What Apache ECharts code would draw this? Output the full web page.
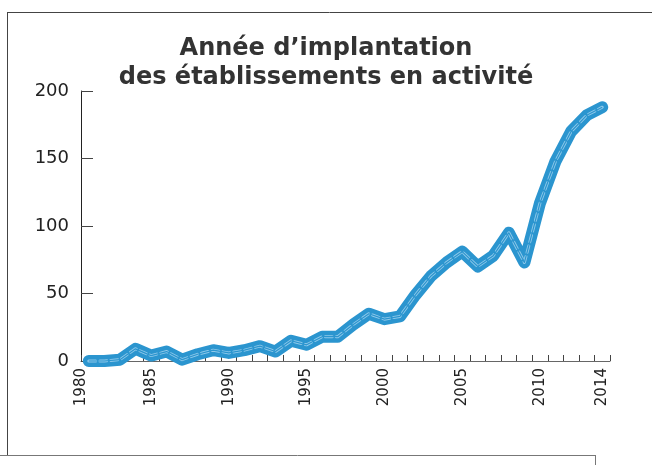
<!DOCTYPE html>
<html>
<head>
<meta charset="utf-8">
<script src="https://cdn.jsdelivr.net/npm/echarts@6/dist/echarts.min.js"></script>
<style>
  html, body { margin: 0; padding: 0; background: #fff; }
  #chart { width: 652px; height: 465px; }
</style>
</head>
<body>
<div id="chart"></div>
<script>
// années et nombre d'établissements
var years = [1981, 1982, 1983, 1984, 1985, 1986, 1987, 1988, 1989, 1990,
  1991, 1992, 1993, 1994, 1995, 1996, 1997, 1998, 1999, 2000,
  2001, 2002, 2003, 2004, 2005, 2006, 2007, 2008, 2009, 2010,
  2011, 2012, 2013, 2014];
var counts = [0, 0, 1, 9, 4, 7, 1, 5, 8, 6,
  8, 11, 7, 15, 12, 18, 18, 27, 35, 31,
  33, 49, 63, 73, 81, 70, 78, 95, 73, 117,
  148, 170, 182, 188];
var xLabels = [1980, 1985, 1990, 1995, 2000, 2005, 2010, 2014];
var yTicks = [0, 50, 100, 150, 200];

var xMin = years[0] - 0.5;
var xMax = years[years.length - 1] + 0.5;

var chart = echarts.init(document.getElementById('chart'));
var pts = years.map(function (y, i) { return [y, counts[i]]; });

var option = {
  animation: false,
  textStyle: { fontFamily: 'DejaVu Sans' },
  title: {
    text: 'Année d\u2019implantation\ndes établissements en activité',
    left: 'center',
    top: 29,
    textStyle: { fontSize: 24, fontWeight: 'bold', color: '#333', lineHeight: 29, fontFamily: 'DejaVu Sans' }
  },
  grid: { left: 81, right: 42, top: 91, bottom: 104 },
  xAxis: {
    type: 'value',
    min: xMin,
    max: xMax,
    splitLine: { show: false },
    axisLine: { lineStyle: { color: '#666', width: 1 } },
    axisTick: {
      inside: true, length: 6,
      lineStyle: { color: '#444' },
      customValues: [xMin].concat(years.map(function (y) { return y + 0.5; }))
    },
    axisLabel: {
      rotate: 90, margin: 7, fontSize: 15, color: '#222',
      customValues: xLabels.map(function (v) { return Math.max(v, xMin); }),
      formatter: function (v) { return String(Math.ceil(v - 0.5)); }
    }
  },
  yAxis: {
    type: 'value',
    min: 0, max: 200, interval: 50,
    splitLine: { show: false },
    axisLine: { show: true, lineStyle: { color: '#222', width: 1 } },
    axisTick: { show: true, inside: true, length: 12, lineStyle: { color: '#444' }, customValues: yTicks },
    axisLabel: { fontSize: 18, color: '#222', margin: 12 }
  },
  series: [
    {
      type: 'line', data: pts, symbol: 'none', clip: false,
      lineStyle: { width: 12, color: '#2b95cf', cap: 'round', join: 'round' }
    },
    {
      type: 'line', data: pts, symbol: 'none', clip: false,
      lineStyle: { width: 3, color: '#8fc9ea', type: [7, 4], cap: 'round', join: 'round' }
    },
    {
      type: 'line', data: pts, symbol: 'none', clip: false,
      lineStyle: { width: 1.2, color: '#2b95cf', join: 'round' }
    }
  ],
  graphic: [
    { type: 'line', shape: { x1: 7, y1: 12.5, x2: 652, y2: 12.5 }, style: { stroke: '#444', lineWidth: 1 } },
    { type: 'line', shape: { x1: 7.5, y1: 12, x2: 7.5, y2: 456 }, style: { stroke: '#444', lineWidth: 1 } },
    { type: 'line', shape: { x1: 0, y1: 455.5, x2: 595, y2: 455.5 }, style: { stroke: '#777', lineWidth: 1 } },
    { type: 'line', shape: { x1: 595.5, y1: 455, x2: 595.5, y2: 465 }, style: { stroke: '#777', lineWidth: 1 } }
  ]
};
chart.setOption(option);
</script>
</body>
</html>
